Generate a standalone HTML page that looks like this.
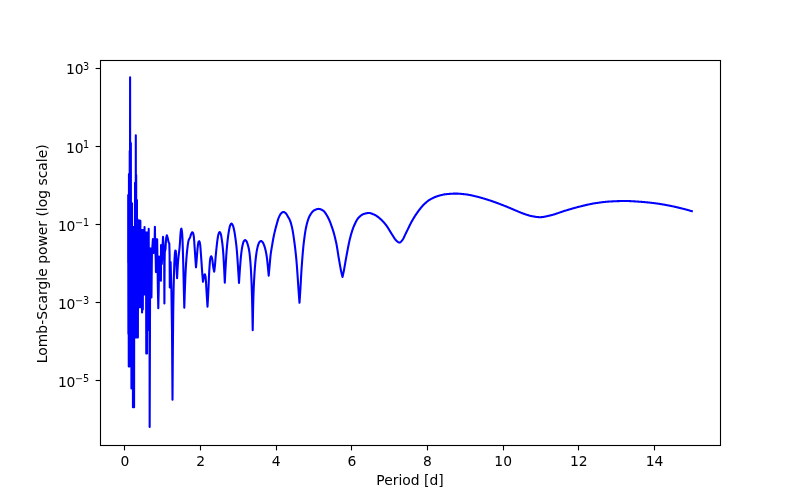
<!DOCTYPE html>
<html lang="en">
<head>
<meta charset="utf-8">
<title>Lomb-Scargle periodogram</title>
<style>
html,body{margin:0;padding:0;background:#ffffff;}
body{width:800px;height:500px;overflow:hidden;}
svg{display:block;}
</style>
</head>
<body>
<svg width="800" height="500" viewBox="0 0 800 500">
<rect x="0" y="0" width="800" height="500" fill="#ffffff"/>
<g font-family="'DejaVu Sans', 'Liberation Sans', sans-serif" fill="#000000">
<g stroke="#000000" stroke-width="1.111" fill="none">
<line x1="124.50" y1="445.5" x2="124.50" y2="450.4"/>
<line x1="200.50" y1="445.5" x2="200.50" y2="450.4"/>
<line x1="276.50" y1="445.5" x2="276.50" y2="450.4"/>
<line x1="351.50" y1="445.5" x2="351.50" y2="450.4"/>
<line x1="427.50" y1="445.5" x2="427.50" y2="450.4"/>
<line x1="503.50" y1="445.5" x2="503.50" y2="450.4"/>
<line x1="578.50" y1="445.5" x2="578.50" y2="450.4"/>
<line x1="654.50" y1="445.5" x2="654.50" y2="450.4"/>
<line x1="100.5" y1="68.50" x2="95.6" y2="68.50"/>
<line x1="100.5" y1="146.50" x2="95.6" y2="146.50"/>
<line x1="100.5" y1="224.50" x2="95.6" y2="224.50"/>
<line x1="100.5" y1="302.50" x2="95.6" y2="302.50"/>
<line x1="100.5" y1="380.50" x2="95.6" y2="380.50"/>
</g>
<text x="124.90" y="466.1" font-size="13.889" text-anchor="middle">0</text>
<text x="200.55" y="466.1" font-size="13.889" text-anchor="middle">2</text>
<text x="276.20" y="466.1" font-size="13.889" text-anchor="middle">4</text>
<text x="351.87" y="466.1" font-size="13.889" text-anchor="middle">6</text>
<text x="427.52" y="466.1" font-size="13.889" text-anchor="middle">8</text>
<text x="503.18" y="466.1" font-size="13.889" text-anchor="middle">10</text>
<text x="578.84" y="466.1" font-size="13.889" text-anchor="middle">12</text>
<text x="654.49" y="466.1" font-size="13.889" text-anchor="middle">14</text>
<text x="410" y="485.0" font-size="13.889" text-anchor="middle">Period [d]</text>
<text x="47.3" y="253.8" font-size="13.889" text-anchor="middle" transform="rotate(-90 47.3 253.8)">Lomb-Scargle power (log scale)</text>
<text font-size="13.889"><tspan x="66.10" y="73.90">1</tspan><tspan x="74.70" y="73.90">0</tspan><tspan x="83.10" y="69.60" font-size="9.722">3</tspan></text>
<text font-size="13.889"><tspan x="66.10" y="152.80">1</tspan><tspan x="74.70" y="152.80">0</tspan><tspan x="83.10" y="147.50" font-size="9.722">1</tspan></text>
<text font-size="13.889"><tspan x="57.90" y="230.80">1</tspan><tspan x="66.50" y="230.80">0</tspan><tspan x="74.90" y="225.50" font-size="9.722">−</tspan><tspan x="83.00" y="225.50" font-size="9.722">1</tspan></text>
<text font-size="13.889"><tspan x="57.90" y="309.00">1</tspan><tspan x="66.50" y="309.00">0</tspan><tspan x="74.90" y="303.70" font-size="9.722">−</tspan><tspan x="83.00" y="303.70" font-size="9.722">3</tspan></text>
<text font-size="13.889"><tspan x="57.90" y="386.80">1</tspan><tspan x="66.50" y="386.80">0</tspan><tspan x="74.90" y="381.50" font-size="9.722">−</tspan><tspan x="83.00" y="381.50" font-size="9.722">5</tspan></text>
</g>
<clipPath id="ax"><rect x="100.5" y="60.5" width="620" height="385"/></clipPath>
<path clip-path="url(#ax)" d="M128.20 262.00 L128.20 195.00 L128.39 334.00 L128.58 195.00 L128.77 366.50 L128.96 174.00 L129.15 366.50 L129.34 174.00 L129.53 366.50 L129.72 151.00 L129.91 345.00 L130.10 77.40 L130.29 345.00 L130.48 143.00 L130.67 345.00 L130.86 143.00 L131.05 345.00 L131.24 203.40 L131.43 388.50 L131.62 203.40 L131.81 380.00 L132.00 203.40 L132.19 380.00 L132.38 227.00 L132.57 380.00 L132.76 227.00 L132.95 407.30 L133.14 227.00 L133.33 407.30 L133.52 227.00 L133.71 407.30 L133.90 227.00 L134.09 407.30 L134.28 227.00 L134.47 337.50 L134.66 227.00 L134.85 337.50 L135.04 182.80 L135.23 337.50 L135.42 182.80 L135.61 337.50 L135.80 135.30 L135.99 337.50 L136.18 175.00 L136.37 337.50 L136.56 200.00 L136.75 337.50 L136.94 200.00 L137.13 337.50 L137.32 219.00 L137.51 337.50 L137.70 220.80 L137.89 337.50 L138.08 220.80 L138.27 307.30 L138.46 220.80 L138.65 307.30 L138.84 220.80 L139.03 307.30 L139.22 220.80 L139.41 307.30 L139.60 220.80 L139.79 307.30 L139.98 220.80 L140.17 307.30 L140.36 220.80 L140.55 307.30 L140.74 230.40 L140.93 307.30 L141.12 230.40 L141.31 307.30 L141.50 230.40 L141.69 307.30 L141.88 230.40 L142.07 312.40 L142.26 230.40 L142.45 309.40 L142.64 230.40 L142.83 309.40 L143.02 230.40 L143.21 294.50 L143.40 230.40 L143.59 294.50 L143.78 230.40 L143.97 294.50 L144.16 230.40 L144.35 294.50 L144.54 227.10 L144.73 294.50 L144.92 232.80 L145.11 294.50 L145.30 232.80 L145.49 294.50 L145.68 232.80 L145.87 294.50 L146.06 232.80 L146.25 353.50 L146.44 232.80 L146.63 353.50 L146.82 232.80 L147.01 353.50 L147.20 232.80 L147.39 330.00 L147.58 232.80 L147.77 330.00 L147.96 232.80 L148.15 330.00 L148.34 232.80 L148.53 330.00 L148.72 228.90 L148.91 330.00 L149.10 248.00 L149.29 330.00 L149.48 248.00 L149.67 427.00 L150.05 300.00 L150.43 262.00 L150.85 248.50 L151.45 297.40 L151.90 254.00 L152.90 239.10 L153.50 253.00 L154.00 239.20 L154.50 250.00 L154.90 226.80 L155.30 250.00 L155.70 258.00 L155.95 272.10 L156.20 258.00 L156.50 239.20 L157.16 239.20 L157.90 290.00 L158.30 308.20 L158.70 290.00 L159.10 256.60 L159.60 262.00 L160.30 270.00 L160.90 280.80 L161.05 245.00 L161.80 264.00 L162.40 250.00 L163.00 236.80 L163.60 246.00 L164.20 262.00 L164.40 303.40 L164.60 262.00 L164.80 252.00 L165.50 249.00 L165.76 244.00 L166.20 238.00 L166.80 235.20 L167.60 237.50 L168.60 242.30 L169.30 243.50 L169.60 255.00 L169.80 287.40 L170.60 262.00 L171.40 290.00 L172.00 330.00 L172.50 399.80 L172.85 351.52 L173.21 313.81 L173.56 291.33 L173.92 275.99 L174.27 265.07 L174.62 257.49 L174.98 252.67 L175.33 250.63 L175.68 250.71 L176.04 253.57 L176.39 264.53 L176.75 272.88 L177.10 278.30 L177.46 270.72 L177.82 264.78 L178.18 260.07 L178.54 256.46 L178.90 253.43 L179.26 250.46 L179.62 247.04 L179.98 242.34 L180.34 235.89 L180.70 231.67 L181.06 229.14 L181.42 228.63 L181.78 230.34 L182.14 233.41 L182.50 239.35 L182.86 250.17 L183.22 262.70 L183.58 277.78 L183.94 293.63 L184.30 307.80 L184.65 296.24 L185.01 286.26 L185.36 277.11 L185.72 269.46 L186.07 263.59 L186.43 258.52 L186.78 254.19 L187.14 250.58 L187.49 247.47 L187.85 244.66 L188.20 242.32 L188.55 240.66 L188.91 239.64 L189.26 238.92 L189.62 238.30 L189.97 237.57 L190.33 236.57 L190.68 235.42 L191.04 234.33 L191.39 233.52 L191.75 232.93 L192.10 232.44 L192.45 232.20 L192.81 232.48 L193.16 233.36 L193.52 234.66 L193.87 237.00 L194.23 241.46 L194.58 246.82 L194.94 251.95 L195.29 257.39 L195.65 262.63 L196.00 267.30 L196.35 263.67 L196.70 259.51 L197.05 254.62 L197.40 250.04 L197.75 246.69 L198.10 243.88 L198.45 242.12 L198.80 241.50 L199.15 241.21 L199.50 241.61 L199.85 242.85 L200.20 244.83 L200.55 248.78 L200.90 253.78 L201.25 258.66 L201.60 263.62 L201.95 268.81 L202.30 273.72 L202.65 277.98 L203.00 281.80 L203.38 279.57 L203.75 277.71 L204.12 276.07 L204.50 274.65 L204.88 274.23 L205.25 275.24 L205.62 277.15 L206.00 281.99 L206.38 288.90 L206.75 294.93 L207.12 300.85 L207.50 306.80 L207.85 300.59 L208.21 293.89 L208.56 286.54 L208.91 277.96 L209.26 270.58 L209.62 265.31 L209.97 260.95 L210.32 258.41 L210.67 257.11 L211.03 256.31 L211.38 256.33 L211.73 257.19 L212.08 258.53 L212.44 260.38 L212.79 263.38 L213.14 266.44 L213.49 268.59 L213.85 270.33 L214.20 271.70 L214.55 269.11 L214.91 265.92 L215.26 261.96 L215.61 257.26 L215.97 253.22 L216.32 249.75 L216.67 246.42 L217.03 243.18 L217.38 240.32 L217.73 238.00 L218.09 235.90 L218.44 234.29 L218.79 233.33 L219.15 232.56 L219.50 232.08 L219.85 232.06 L220.21 232.54 L220.56 233.35 L220.91 234.36 L221.27 236.04 L221.62 238.30 L221.97 240.81 L222.33 243.46 L222.68 246.54 L223.03 250.22 L223.39 255.02 L223.74 261.16 L224.09 267.76 L224.45 274.91 L224.80 282.70 L225.16 275.39 L225.51 268.61 L225.87 262.35 L226.22 256.44 L226.58 251.32 L226.93 247.09 L227.28 243.41 L227.64 240.15 L228.00 237.14 L228.35 234.41 L228.71 232.05 L229.06 230.05 L229.42 228.18 L229.77 226.60 L230.12 225.46 L230.48 224.75 L230.84 224.15 L231.19 223.73 L231.55 223.60 L231.90 223.82 L232.25 224.30 L232.61 224.94 L232.97 225.67 L233.32 226.74 L233.68 228.13 L234.03 229.71 L234.38 231.43 L234.74 233.49 L235.09 235.84 L235.45 238.39 L235.81 241.05 L236.16 243.90 L236.52 247.10 L236.87 250.78 L237.22 255.34 L237.58 260.57 L237.94 266.02 L238.29 271.45 L238.65 277.12 L239.00 283.00 L239.35 277.36 L239.70 272.10 L240.05 267.29 L240.41 262.72 L240.76 258.46 L241.11 254.82 L241.46 251.89 L241.81 249.33 L242.16 247.19 L242.51 245.50 L242.86 244.00 L243.22 242.70 L243.57 241.72 L243.92 241.14 L244.27 240.70 L244.62 240.35 L244.97 240.14 L245.32 240.12 L245.67 240.32 L246.03 240.69 L246.38 241.17 L246.73 241.71 L247.08 242.51 L247.43 243.55 L247.78 244.73 L248.13 245.98 L248.48 247.34 L248.84 248.92 L249.19 250.81 L249.54 253.19 L249.89 256.31 L250.24 260.10 L250.59 264.53 L250.94 270.02 L251.29 276.74 L251.65 285.12 L252.00 296.23 L252.35 310.91 L252.70 330.30 L253.06 310.28 L253.41 296.37 L253.77 286.90 L254.12 279.69 L254.48 273.61 L254.83 268.45 L255.19 264.12 L255.54 260.41 L255.90 257.13 L256.26 254.30 L256.61 251.93 L256.97 249.91 L257.32 248.14 L257.68 246.63 L258.03 245.40 L258.39 244.33 L258.74 243.37 L259.10 242.59 L259.46 242.05 L259.81 241.69 L260.17 241.37 L260.52 241.13 L260.88 241.01 L261.23 241.03 L261.59 241.20 L261.94 241.47 L262.30 241.80 L262.66 242.18 L263.01 242.74 L263.37 243.47 L263.72 244.31 L264.08 245.20 L264.43 246.19 L264.79 247.32 L265.14 248.59 L265.50 250.00 L265.86 251.58 L266.21 253.40 L266.57 255.48 L266.92 257.88 L267.28 260.89 L267.63 264.33 L267.99 267.90 L268.34 271.67 L268.70 275.70 L269.05 271.90 L269.40 268.09 L269.75 264.16 L270.10 260.05 L270.45 256.33 L270.80 253.45 L271.15 251.05 L271.50 248.92 L271.85 246.88 L272.20 244.81 L272.55 242.75 L272.90 240.74 L273.25 238.80 L273.60 236.96 L273.95 235.23 L274.30 233.63 L274.65 232.11 L275.00 230.66 L275.35 229.26 L275.70 227.92 L276.05 226.62 L276.40 225.36 L276.75 224.10 L277.10 222.84 L277.45 221.60 L277.80 220.40 L278.15 219.27 L278.50 218.24 L278.85 217.34 L279.20 216.57 L279.55 215.84 L279.90 215.16 L280.25 214.54 L280.60 214.00 L280.95 213.54 L281.30 213.20 L281.65 212.92 L282.00 212.65 L282.35 212.41 L282.70 212.21 L283.05 212.07 L283.40 212.00 L283.75 212.02 L284.10 212.12 L284.45 212.29 L284.80 212.51 L285.15 212.77 L285.50 213.05 L285.85 213.34 L286.20 213.73 L286.55 214.23 L286.90 214.81 L287.25 215.44 L287.60 216.09 L287.95 216.71 L288.30 217.30 L288.65 217.88 L289.00 218.47 L289.35 219.11 L289.70 219.81 L290.05 220.62 L290.40 221.56 L290.75 222.63 L291.10 223.83 L291.45 225.15 L291.80 226.58 L292.15 228.11 L292.50 229.77 L292.85 231.68 L293.20 233.80 L293.55 236.12 L293.90 238.57 L294.25 241.13 L294.60 243.76 L294.95 246.50 L295.30 249.40 L295.65 252.51 L296.00 255.85 L296.35 259.46 L296.70 263.54 L297.05 268.20 L297.40 273.15 L297.75 278.18 L298.10 283.52 L298.45 288.84 L298.80 293.76 L299.15 298.40 L299.50 302.80 L299.85 297.65 L300.20 292.17 L300.56 286.30 L300.91 279.83 L301.26 273.61 L301.61 268.12 L301.97 263.06 L302.32 258.50 L302.67 254.19 L303.02 250.13 L303.38 246.43 L303.73 243.17 L304.08 240.27 L304.43 237.52 L304.79 234.95 L305.14 232.56 L305.49 230.38 L305.84 228.43 L306.20 226.73 L306.55 225.23 L306.90 223.82 L307.25 222.49 L307.61 221.25 L307.96 220.10 L308.31 219.05 L308.66 218.10 L309.02 217.25 L309.37 216.50 L309.72 215.84 L310.07 215.22 L310.43 214.61 L310.78 214.04 L311.13 213.50 L311.48 212.99 L311.84 212.51 L312.19 212.07 L312.54 211.67 L312.89 211.31 L313.25 210.99 L313.60 210.71 L313.95 210.48 L314.30 210.29 L314.66 210.11 L315.01 209.94 L315.36 209.77 L315.71 209.61 L316.07 209.46 L316.42 209.33 L316.77 209.21 L317.12 209.11 L317.48 209.02 L317.83 208.96 L318.18 208.92 L318.53 208.90 L318.89 208.91 L319.24 208.95 L319.59 209.01 L319.94 209.09 L320.30 209.20 L320.65 209.33 L321.00 209.47 L321.35 209.63 L321.70 209.80 L322.06 209.98 L322.41 210.17 L322.76 210.37 L323.11 210.57 L323.47 210.82 L323.82 211.13 L324.17 211.49 L324.52 211.89 L324.88 212.34 L325.23 212.83 L325.58 213.34 L325.93 213.89 L326.29 214.45 L326.64 215.03 L326.99 215.63 L327.34 216.23 L327.70 216.84 L328.05 217.50 L328.40 218.19 L328.75 218.93 L329.11 219.70 L329.46 220.51 L329.81 221.35 L330.16 222.23 L330.52 223.14 L330.87 224.08 L331.22 225.04 L331.57 226.03 L331.93 227.05 L332.28 228.09 L332.63 229.15 L332.98 230.25 L333.34 231.40 L333.69 232.59 L334.04 233.84 L334.39 235.15 L334.75 236.51 L335.10 237.93 L335.45 239.41 L335.80 240.95 L336.16 242.56 L336.51 244.28 L336.86 246.22 L337.21 248.32 L337.57 250.53 L337.92 252.79 L338.27 255.06 L338.62 257.26 L338.98 259.36 L339.33 261.38 L339.68 263.40 L340.03 265.40 L340.39 267.34 L340.74 269.21 L341.09 270.98 L341.44 272.62 L341.80 274.17 L342.15 275.63 L342.50 277.00 L342.85 275.48 L343.20 273.89 L343.55 272.23 L343.90 270.48 L344.25 268.62 L344.60 266.65 L344.95 264.62 L345.30 262.57 L345.65 260.53 L346.00 258.56 L346.35 256.68 L346.70 254.79 L347.05 252.90 L347.40 251.01 L347.76 249.14 L348.11 247.30 L348.46 245.50 L348.81 243.77 L349.16 242.11 L349.51 240.54 L349.86 239.07 L350.21 237.70 L350.56 236.37 L350.91 235.08 L351.26 233.84 L351.61 232.64 L351.96 231.49 L352.31 230.40 L352.66 229.36 L353.01 228.37 L353.36 227.45 L353.71 226.59 L354.06 225.78 L354.41 224.98 L354.76 224.20 L355.11 223.45 L355.46 222.71 L355.81 222.01 L356.16 221.33 L356.51 220.69 L356.86 220.08 L357.21 219.50 L357.57 218.97 L357.92 218.48 L358.27 218.04 L358.62 217.64 L358.97 217.28 L359.32 216.94 L359.67 216.62 L360.02 216.30 L360.37 216.00 L360.72 215.72 L361.07 215.45 L361.42 215.19 L361.77 214.96 L362.12 214.74 L362.47 214.55 L362.82 214.37 L363.17 214.21 L363.52 214.08 L363.87 213.96 L364.22 213.85 L364.57 213.75 L364.92 213.65 L365.27 213.55 L365.62 213.46 L365.97 213.37 L366.32 213.29 L366.67 213.22 L367.02 213.15 L367.37 213.10 L367.73 213.06 L368.08 213.03 L368.43 213.01 L368.78 213.00 L369.13 213.01 L369.48 213.04 L369.83 213.09 L370.18 213.15 L370.53 213.23 L370.88 213.32 L371.23 213.43 L371.58 213.54 L371.93 213.67 L372.28 213.80 L372.63 213.94 L372.98 214.09 L373.33 214.25 L373.68 214.40 L374.03 214.56 L374.38 214.72 L374.73 214.88 L375.08 215.04 L375.43 215.21 L375.78 215.40 L376.13 215.61 L376.48 215.83 L376.83 216.06 L377.18 216.31 L377.54 216.57 L377.89 216.84 L378.24 217.12 L378.59 217.41 L378.94 217.70 L379.29 217.99 L379.64 218.29 L379.99 218.59 L380.34 218.89 L380.69 219.21 L381.04 219.53 L381.39 219.86 L381.74 220.20 L382.09 220.54 L382.44 220.90 L382.79 221.27 L383.14 221.64 L383.49 222.02 L383.84 222.41 L384.19 222.81 L384.54 223.22 L384.89 223.63 L385.24 224.06 L385.59 224.49 L385.94 224.93 L386.29 225.38 L386.64 225.86 L386.99 226.36 L387.34 226.88 L387.70 227.42 L388.05 227.97 L388.40 228.53 L388.75 229.11 L389.10 229.69 L389.45 230.27 L389.80 230.85 L390.15 231.44 L390.50 232.02 L390.85 232.59 L391.20 233.16 L391.55 233.71 L391.90 234.25 L392.25 234.78 L392.60 235.33 L392.95 235.89 L393.30 236.46 L393.65 237.03 L394.00 237.58 L394.35 238.12 L394.70 238.63 L395.05 239.12 L395.40 239.56 L395.75 239.95 L396.10 240.30 L396.45 240.64 L396.80 240.98 L397.15 241.32 L397.51 241.63 L397.86 241.92 L398.21 242.18 L398.56 242.38 L398.91 242.52 L399.26 242.59 L399.61 242.58 L399.96 242.46 L400.31 242.26 L400.66 241.97 L401.01 241.63 L401.36 241.25 L401.71 240.84 L402.06 240.41 L402.41 239.99 L402.76 239.52 L403.11 238.97 L403.46 238.34 L403.81 237.66 L404.16 236.93 L404.51 236.18 L404.86 235.41 L405.21 234.64 L405.56 233.89 L405.91 233.17 L406.26 232.48 L406.61 231.77 L406.96 231.06 L407.31 230.34 L407.67 229.61 L408.02 228.89 L408.37 228.16 L408.72 227.43 L409.07 226.70 L409.42 225.98 L409.77 225.27 L410.12 224.56 L410.47 223.87 L410.82 223.18 L411.17 222.52 L411.52 221.86 L411.87 221.23 L412.22 220.62 L412.57 220.01 L412.92 219.41 L413.27 218.81 L413.62 218.23 L413.97 217.65 L414.32 217.08 L414.67 216.52 L415.02 215.97 L415.37 215.42 L415.72 214.88 L416.07 214.35 L416.42 213.83 L416.77 213.32 L417.12 212.82 L417.48 212.32 L417.83 211.84 L418.18 211.36 L418.53 210.89 L418.88 210.42 L419.23 209.96 L419.58 209.50 L419.93 209.04 L420.28 208.60 L420.63 208.16 L420.98 207.73 L421.33 207.30 L421.68 206.89 L422.03 206.48 L422.38 206.09 L422.73 205.70 L423.08 205.33 L423.43 204.96 L423.78 204.61 L424.13 204.27 L424.48 203.94 L424.83 203.61 L425.18 203.29 L425.53 202.97 L425.88 202.66 L426.23 202.36 L426.58 202.06 L426.93 201.77 L427.28 201.49 L427.64 201.21 L427.99 200.95 L428.34 200.69 L428.69 200.44 L429.04 200.20 L429.39 199.97 L429.74 199.76 L430.09 199.55 L430.44 199.35 L430.79 199.15 L431.14 198.95 L431.49 198.76 L431.84 198.58 L432.19 198.39 L432.54 198.22 L432.89 198.04 L433.24 197.87 L433.59 197.70 L433.94 197.54 L434.29 197.39 L434.64 197.23 L434.99 197.08 L435.34 196.94 L435.69 196.80 L436.04 196.66 L436.39 196.53 L436.74 196.41 L437.09 196.29 L437.45 196.17 L437.80 196.06 L438.15 195.96 L438.50 195.85 L438.85 195.75 L439.20 195.65 L439.55 195.55 L439.90 195.45 L440.25 195.35 L440.60 195.25 L440.95 195.16 L441.30 195.07 L441.65 194.98 L442.00 194.90 L442.35 194.81 L442.70 194.74 L443.05 194.66 L443.40 194.59 L443.75 194.52 L444.10 194.46 L444.45 194.40 L444.80 194.35 L445.15 194.30 L445.50 194.25 L445.85 194.21 L446.20 194.18 L446.55 194.15 L446.90 194.11 L447.25 194.08 L447.61 194.05 L447.96 194.02 L448.31 193.99 L448.66 193.96 L449.01 193.93 L449.36 193.90 L449.71 193.87 L450.06 193.85 L450.41 193.82 L450.76 193.80 L451.11 193.77 L451.46 193.75 L451.81 193.73 L452.16 193.71 L452.51 193.69 L452.86 193.67 L453.21 193.66 L453.56 193.65 L453.91 193.63 L454.26 193.62 L454.61 193.62 L454.96 193.61 L455.31 193.60 L455.66 193.60 L456.01 193.60 L456.36 193.60 L456.71 193.61 L457.06 193.61 L457.42 193.62 L457.77 193.64 L458.12 193.65 L458.47 193.67 L458.82 193.69 L459.17 193.71 L459.52 193.74 L459.87 193.76 L460.22 193.79 L460.57 193.82 L460.92 193.85 L461.27 193.88 L461.62 193.92 L461.97 193.95 L462.32 193.99 L462.67 194.02 L463.02 194.06 L463.37 194.10 L463.72 194.14 L464.07 194.18 L464.42 194.22 L464.77 194.26 L465.12 194.30 L465.47 194.34 L465.82 194.38 L466.17 194.42 L466.52 194.46 L466.87 194.51 L467.22 194.56 L467.58 194.61 L467.93 194.67 L468.28 194.73 L468.63 194.79 L468.98 194.85 L469.33 194.91 L469.68 194.98 L470.03 195.05 L470.38 195.12 L470.73 195.19 L471.08 195.27 L471.43 195.34 L471.78 195.42 L472.13 195.50 L472.48 195.58 L472.83 195.66 L473.18 195.74 L473.53 195.82 L473.88 195.90 L474.23 195.98 L474.58 196.07 L474.93 196.15 L475.28 196.23 L475.63 196.31 L475.98 196.40 L476.33 196.48 L476.68 196.56 L477.03 196.65 L477.39 196.74 L477.74 196.82 L478.09 196.91 L478.44 197.00 L478.79 197.10 L479.14 197.19 L479.49 197.29 L479.84 197.38 L480.19 197.48 L480.54 197.58 L480.89 197.68 L481.24 197.78 L481.59 197.88 L481.94 197.98 L482.29 198.08 L482.64 198.18 L482.99 198.29 L483.34 198.39 L483.69 198.50 L484.04 198.60 L484.39 198.71 L484.74 198.82 L485.09 198.92 L485.44 199.03 L485.79 199.14 L486.14 199.24 L486.49 199.35 L486.84 199.46 L487.19 199.57 L487.55 199.69 L487.90 199.80 L488.25 199.91 L488.60 200.03 L488.95 200.14 L489.30 200.26 L489.65 200.38 L490.00 200.49 L490.35 200.61 L490.70 200.73 L491.05 200.85 L491.40 200.97 L491.75 201.09 L492.10 201.22 L492.45 201.34 L492.80 201.46 L493.15 201.58 L493.50 201.71 L493.85 201.83 L494.20 201.96 L494.55 202.08 L494.90 202.21 L495.25 202.33 L495.60 202.46 L495.95 202.58 L496.30 202.71 L496.65 202.84 L497.00 202.96 L497.36 203.09 L497.71 203.22 L498.06 203.35 L498.41 203.48 L498.76 203.61 L499.11 203.74 L499.46 203.87 L499.81 204.00 L500.16 204.13 L500.51 204.26 L500.86 204.40 L501.21 204.53 L501.56 204.66 L501.91 204.80 L502.26 204.93 L502.61 205.07 L502.96 205.20 L503.31 205.34 L503.66 205.48 L504.01 205.61 L504.36 205.75 L504.71 205.89 L505.06 206.03 L505.41 206.17 L505.76 206.31 L506.11 206.45 L506.46 206.59 L506.81 206.73 L507.16 206.87 L507.52 207.02 L507.87 207.16 L508.22 207.31 L508.57 207.45 L508.92 207.60 L509.27 207.75 L509.62 207.90 L509.97 208.05 L510.32 208.20 L510.67 208.35 L511.02 208.50 L511.37 208.65 L511.72 208.80 L512.07 208.95 L512.42 209.09 L512.77 209.24 L513.12 209.39 L513.47 209.54 L513.82 209.69 L514.17 209.84 L514.52 209.99 L514.87 210.13 L515.22 210.28 L515.57 210.42 L515.92 210.57 L516.27 210.71 L516.62 210.86 L516.97 211.00 L517.33 211.15 L517.68 211.30 L518.03 211.44 L518.38 211.59 L518.73 211.74 L519.08 211.88 L519.43 212.03 L519.78 212.17 L520.13 212.32 L520.48 212.46 L520.83 212.60 L521.18 212.75 L521.53 212.88 L521.88 213.02 L522.23 213.16 L522.58 213.29 L522.93 213.42 L523.28 213.55 L523.63 213.67 L523.98 213.79 L524.33 213.91 L524.68 214.04 L525.03 214.16 L525.38 214.28 L525.73 214.40 L526.08 214.52 L526.43 214.64 L526.78 214.76 L527.14 214.88 L527.49 215.00 L527.84 215.11 L528.19 215.23 L528.54 215.33 L528.89 215.44 L529.24 215.54 L529.59 215.64 L529.94 215.74 L530.29 215.83 L530.64 215.92 L530.99 216.00 L531.34 216.07 L531.69 216.14 L532.04 216.21 L532.39 216.27 L532.74 216.33 L533.09 216.39 L533.44 216.46 L533.79 216.52 L534.14 216.58 L534.49 216.64 L534.84 216.70 L535.19 216.75 L535.54 216.81 L535.89 216.86 L536.24 216.91 L536.59 216.96 L536.94 217.00 L537.30 217.04 L537.65 217.08 L538.00 217.11 L538.35 217.14 L538.70 217.16 L539.05 217.18 L539.40 217.19 L539.75 217.20 L540.10 217.20 L540.45 217.19 L540.80 217.18 L541.15 217.16 L541.50 217.14 L541.85 217.11 L542.20 217.07 L542.55 217.03 L542.90 216.98 L543.25 216.93 L543.60 216.88 L543.95 216.82 L544.30 216.76 L544.65 216.69 L545.00 216.62 L545.35 216.55 L545.70 216.47 L546.05 216.40 L546.40 216.32 L546.75 216.24 L547.11 216.16 L547.46 216.08 L547.81 216.00 L548.16 215.92 L548.51 215.84 L548.86 215.76 L549.21 215.68 L549.56 215.60 L549.91 215.52 L550.26 215.44 L550.61 215.36 L550.96 215.28 L551.31 215.19 L551.66 215.10 L552.01 215.01 L552.36 214.91 L552.71 214.82 L553.06 214.72 L553.41 214.61 L553.76 214.51 L554.11 214.40 L554.46 214.29 L554.81 214.18 L555.16 214.07 L555.51 213.95 L555.86 213.84 L556.21 213.72 L556.56 213.60 L556.91 213.48 L557.27 213.36 L557.62 213.24 L557.97 213.12 L558.32 213.00 L558.67 212.87 L559.02 212.75 L559.37 212.63 L559.72 212.50 L560.07 212.38 L560.42 212.26 L560.77 212.14 L561.12 212.02 L561.47 211.90 L561.82 211.78 L562.17 211.66 L562.52 211.54 L562.87 211.42 L563.22 211.31 L563.57 211.19 L563.92 211.08 L564.27 210.97 L564.62 210.86 L564.97 210.76 L565.32 210.65 L565.67 210.55 L566.02 210.44 L566.37 210.34 L566.72 210.23 L567.08 210.13 L567.43 210.02 L567.78 209.92 L568.13 209.81 L568.48 209.71 L568.83 209.60 L569.18 209.50 L569.53 209.40 L569.88 209.29 L570.23 209.19 L570.58 209.09 L570.93 208.98 L571.28 208.88 L571.63 208.78 L571.98 208.68 L572.33 208.57 L572.68 208.47 L573.03 208.37 L573.38 208.27 L573.73 208.17 L574.08 208.07 L574.43 207.97 L574.78 207.88 L575.13 207.78 L575.48 207.68 L575.83 207.59 L576.18 207.49 L576.53 207.39 L576.88 207.30 L577.24 207.21 L577.59 207.11 L577.94 207.02 L578.29 206.93 L578.64 206.84 L578.99 206.75 L579.34 206.66 L579.69 206.58 L580.04 206.49 L580.39 206.40 L580.74 206.32 L581.09 206.23 L581.44 206.15 L581.79 206.06 L582.14 205.97 L582.49 205.89 L582.84 205.80 L583.19 205.72 L583.54 205.63 L583.89 205.55 L584.24 205.46 L584.59 205.38 L584.94 205.29 L585.29 205.21 L585.64 205.13 L585.99 205.05 L586.34 204.96 L586.69 204.88 L587.05 204.80 L587.40 204.72 L587.75 204.64 L588.10 204.57 L588.45 204.49 L588.80 204.41 L589.15 204.34 L589.50 204.26 L589.85 204.19 L590.20 204.12 L590.55 204.04 L590.90 203.97 L591.25 203.91 L591.60 203.84 L591.95 203.77 L592.30 203.71 L592.65 203.64 L593.00 203.58 L593.35 203.52 L593.70 203.46 L594.05 203.40 L594.40 203.34 L594.75 203.29 L595.10 203.23 L595.45 203.18 L595.80 203.13 L596.15 203.08 L596.50 203.02 L596.85 202.97 L597.21 202.92 L597.56 202.87 L597.91 202.82 L598.26 202.76 L598.61 202.71 L598.96 202.66 L599.31 202.61 L599.66 202.56 L600.01 202.52 L600.36 202.47 L600.71 202.42 L601.06 202.37 L601.41 202.33 L601.76 202.28 L602.11 202.24 L602.46 202.19 L602.81 202.15 L603.16 202.11 L603.51 202.07 L603.86 202.03 L604.21 201.99 L604.56 201.95 L604.91 201.91 L605.26 201.87 L605.61 201.84 L605.96 201.80 L606.31 201.77 L606.66 201.74 L607.02 201.71 L607.37 201.68 L607.72 201.65 L608.07 201.62 L608.42 201.60 L608.77 201.57 L609.12 201.55 L609.47 201.53 L609.82 201.51 L610.17 201.49 L610.52 201.47 L610.87 201.46 L611.22 201.44 L611.57 201.42 L611.92 201.40 L612.27 201.38 L612.62 201.37 L612.97 201.35 L613.32 201.33 L613.67 201.32 L614.02 201.30 L614.37 201.28 L614.72 201.27 L615.07 201.25 L615.42 201.24 L615.77 201.22 L616.12 201.21 L616.47 201.19 L616.82 201.18 L617.18 201.16 L617.53 201.15 L617.88 201.14 L618.23 201.13 L618.58 201.11 L618.93 201.10 L619.28 201.09 L619.63 201.08 L619.98 201.07 L620.33 201.06 L620.68 201.05 L621.03 201.05 L621.38 201.04 L621.73 201.03 L622.08 201.03 L622.43 201.02 L622.78 201.02 L623.13 201.01 L623.48 201.01 L623.83 201.00 L624.18 201.00 L624.53 201.00 L624.88 201.00 L625.23 201.00 L625.58 201.00 L625.93 201.00 L626.28 201.01 L626.63 201.01 L626.99 201.02 L627.34 201.03 L627.69 201.04 L628.04 201.05 L628.39 201.06 L628.74 201.07 L629.09 201.08 L629.44 201.10 L629.79 201.11 L630.14 201.13 L630.49 201.14 L630.84 201.16 L631.19 201.18 L631.54 201.20 L631.89 201.22 L632.24 201.24 L632.59 201.26 L632.94 201.28 L633.29 201.30 L633.64 201.32 L633.99 201.34 L634.34 201.36 L634.69 201.39 L635.04 201.41 L635.39 201.43 L635.74 201.46 L636.09 201.48 L636.44 201.51 L636.79 201.53 L637.15 201.55 L637.50 201.58 L637.85 201.60 L638.20 201.63 L638.55 201.65 L638.90 201.68 L639.25 201.70 L639.60 201.72 L639.95 201.75 L640.30 201.77 L640.65 201.79 L641.00 201.82 L641.35 201.84 L641.70 201.87 L642.05 201.90 L642.40 201.93 L642.75 201.95 L643.10 201.98 L643.45 202.01 L643.80 202.04 L644.15 202.07 L644.50 202.10 L644.85 202.13 L645.20 202.17 L645.55 202.20 L645.90 202.23 L646.25 202.27 L646.60 202.30 L646.96 202.34 L647.31 202.37 L647.66 202.41 L648.01 202.44 L648.36 202.48 L648.71 202.52 L649.06 202.55 L649.41 202.59 L649.76 202.63 L650.11 202.67 L650.46 202.71 L650.81 202.75 L651.16 202.79 L651.51 202.83 L651.86 202.87 L652.21 202.91 L652.56 202.95 L652.91 202.99 L653.26 203.04 L653.61 203.08 L653.96 203.12 L654.31 203.16 L654.66 203.21 L655.01 203.25 L655.36 203.30 L655.71 203.34 L656.06 203.39 L656.41 203.43 L656.76 203.48 L657.12 203.53 L657.47 203.58 L657.82 203.63 L658.17 203.68 L658.52 203.73 L658.87 203.79 L659.22 203.84 L659.57 203.89 L659.92 203.95 L660.27 204.00 L660.62 204.06 L660.97 204.11 L661.32 204.17 L661.67 204.23 L662.02 204.29 L662.37 204.35 L662.72 204.41 L663.07 204.47 L663.42 204.53 L663.77 204.59 L664.12 204.65 L664.47 204.71 L664.82 204.78 L665.17 204.84 L665.52 204.90 L665.87 204.97 L666.22 205.03 L666.57 205.10 L666.93 205.16 L667.28 205.23 L667.63 205.29 L667.98 205.36 L668.33 205.43 L668.68 205.49 L669.03 205.56 L669.38 205.63 L669.73 205.70 L670.08 205.77 L670.43 205.83 L670.78 205.90 L671.13 205.97 L671.48 206.04 L671.83 206.12 L672.18 206.19 L672.53 206.26 L672.88 206.34 L673.23 206.41 L673.58 206.49 L673.93 206.56 L674.28 206.64 L674.63 206.72 L674.98 206.80 L675.33 206.87 L675.68 206.95 L676.03 207.03 L676.38 207.12 L676.73 207.20 L677.09 207.28 L677.44 207.36 L677.79 207.44 L678.14 207.53 L678.49 207.61 L678.84 207.70 L679.19 207.78 L679.54 207.87 L679.89 207.95 L680.24 208.04 L680.59 208.13 L680.94 208.21 L681.29 208.30 L681.64 208.39 L681.99 208.48 L682.34 208.57 L682.69 208.65 L683.04 208.74 L683.39 208.83 L683.74 208.92 L684.09 209.01 L684.44 209.11 L684.79 209.20 L685.14 209.29 L685.49 209.38 L685.84 209.47 L686.19 209.57 L686.54 209.66 L686.90 209.76 L687.25 209.86 L687.60 209.96 L687.95 210.06 L688.30 210.16 L688.65 210.26 L689.00 210.36 L689.35 210.47 L689.70 210.57 L690.05 210.67 L690.40 210.78 L690.75 210.88 L691.10 210.99 L691.45 211.09 L691.80 211.20" fill="none" stroke="#0000ff" stroke-width="2.083" stroke-linejoin="round" stroke-linecap="square"/>
<rect x="100.5" y="60.5" width="620" height="385" fill="none" stroke="#000000" stroke-width="1.111" stroke-linejoin="miter"/>
</svg>
</body>
</html>
